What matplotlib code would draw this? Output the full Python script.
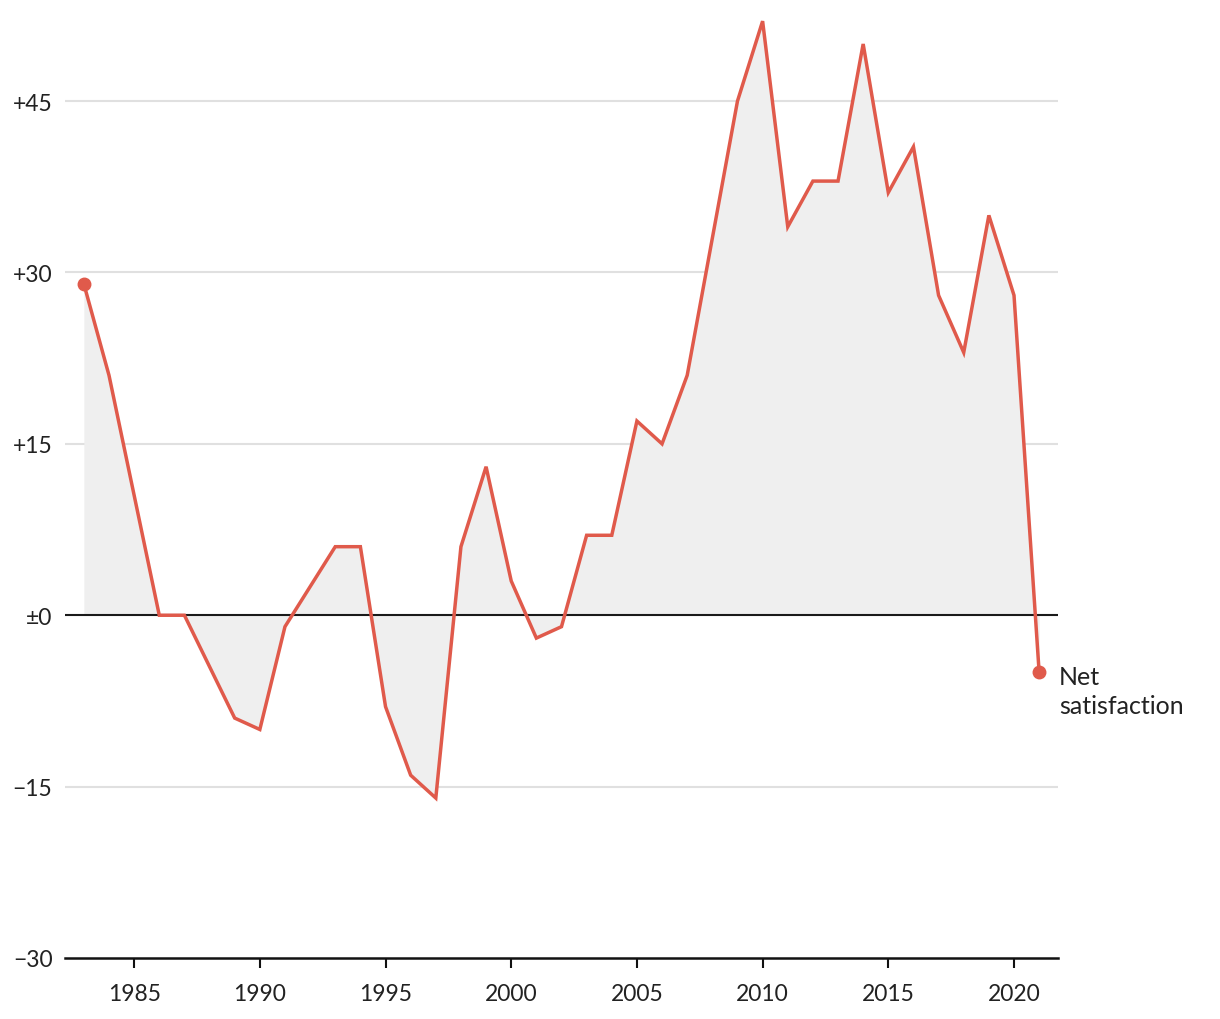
import matplotlib
matplotlib.use("Agg")
import matplotlib.pyplot as plt
import numpy as np

years = list(range(1983, 2022))
net_satisfaction = [29, 21, 10.5, 0, 0, -4.5, -9, -10, -1, 2.5, 6, 6, -8, -14, -16, 6, 13, 3,
                    -2, -1, 7, 7, 17, 15, 21, 33, 45, 52, 34, 38, 38, 50, 37, 41, 28, 23, 35, 28, -5]
ytick_vals = [-30, -15, 0, 15, 30, 45]
ytick_labels = ["\u221230", "\u221215", "\u00b10", "+15", "+30", "+45"]
xtick_vals = [1985, 1990, 1995, 2000, 2005, 2010, 2015, 2020]
series_label = "Net\nsatisfaction"

plt.rcParams['font.family'] = ['Lato', 'DejaVu Sans']
RED = "#e05a4b"
TXT = "#222222"

fig = plt.figure(figsize=(12.2, 10.2), dpi=100)
ax = fig.add_axes([65/1220, 61/1020, (1058-65)/1220, (959-5)/1020])

x = np.array(years)
y = np.array(net_satisfaction)
ax.fill_between(x, y, 0, color="#efefef", lw=0, zorder=1)
for v in ytick_vals:
    if v not in (0, -30):
        ax.axhline(v, color="#e0e0e0", lw=1.5, zorder=0)
ax.axhline(0, color="#1a1a1a", lw=1.5, zorder=2)
ax.plot(x, y, color=RED, lw=2.5, zorder=3, solid_joinstyle="miter")
ax.plot([x[0], x[-1]], [y[0], y[-1]], "o", color=RED, ms=9, zorder=4)
ax.text(x[-1] + 0.78, y[-1] + 0.65, series_label, ha="left", va="top", fontsize=18,
        color=TXT, linespacing=1.3)

ax.set_xlim(1982.25, 2021.75)
ax.set_ylim(-30, 53.5)
for s in ["top", "right", "left"]:
    ax.spines[s].set_visible(False)
ax.spines["bottom"].set_linewidth(1.8)
ax.spines["bottom"].set_color("#111111")
ax.set_xticks(xtick_vals)
ax.set_xticklabels([str(v) for v in xtick_vals], fontsize=16.5, color=TXT)
ax.tick_params(axis="x", length=7, width=1.5, color="#111111", pad=11)
ax.set_yticks(ytick_vals)
ax.set_yticklabels(ytick_labels, fontsize=16.5, color=TXT)
ax.tick_params(axis="y", length=0, pad=9)

fig.savefig("out.png", dpi=100)
